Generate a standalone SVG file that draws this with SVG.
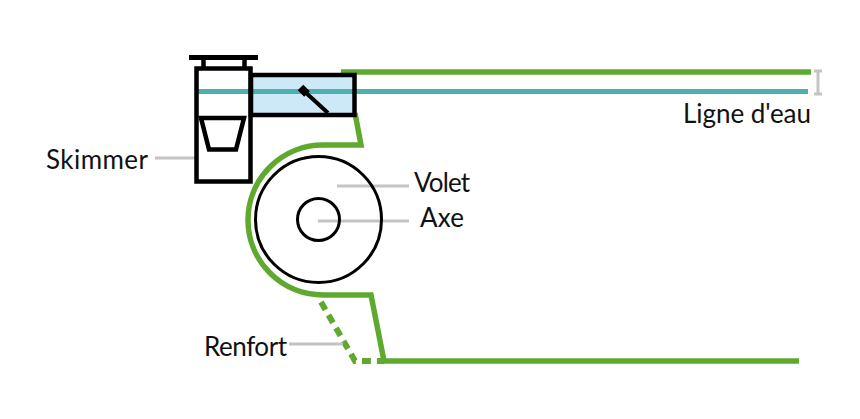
<svg xmlns="http://www.w3.org/2000/svg" width="860" height="419" viewBox="0 0 860 419">
<style>
.g{fill:none;stroke:#5fa92f;stroke-width:5.500}
.k{fill:none;stroke:#000;stroke-width:4.500}
.l{fill:none;stroke:#c4c4c4;stroke-width:3}
text{font-family:"Lato","Noto Sans",sans-serif;font-size:26px;fill:#111}
</style>
<rect width="860" height="419" fill="#fff"/>
<g id="connectors">
<path class="g" d="M341 72H811"/>
<path class="g" d="M355 113L361 145H323A75 75 0 0 0 323 295H371L384 361H799"/>
<path class="g" d="M321 302L355 361H384" stroke-dasharray="9 6" style="stroke-width:6"/>
<path class="l" d="M155 158H195"/>
<path class="l" d="M337 186H409"/>
<path class="l" d="M318 221H409"/>
<path class="l" d="M289 344H343"/>
<path class="l" d="M818 71V94M814 71H822M814 94H822"/>
</g>
<g id="bassin"><rect x="251" y="75" width="103.500" height="40" fill="#cde8f6"/></g>
<g id="ligne-eau"><path d="M198 91.500H808" fill="none" stroke="#4fb0b0" stroke-width="5"/></g>
<g id="skimmer">
<rect class="k" x="196.500" y="68.500" width="54" height="113"/>
<path d="M189 57.500H258" fill="none" stroke="#000" stroke-width="5"/>
<path d="M203.500 58V68M244.500 58V68" fill="none" stroke="#000" stroke-width="4.500"/>
<path class="k" d="M201 118H244L236 149.500H209Z"/>
</g>
<g id="volet-box">
<rect class="k" x="251" y="75" width="103.500" height="40"/>
<path d="M300.500 87.500L307 94" fill="none" stroke="#000" stroke-width="8"/>
<path d="M304 91L328 113" fill="none" stroke="#000" stroke-width="4"/>
</g>
<g id="volet"><circle class="k" cx="318.500" cy="219.500" r="63" style="stroke-width:3"/></g>
<g id="axe"><circle class="k" cx="318.500" cy="219.500" r="21" style="stroke-width:3"/></g>
<g id="labels">
<text x="46" y="169" textLength="102">Skimmer</text>
<text x="414" y="192" textLength="56">Volet</text>
<text x="420" y="227" textLength="44">Axe</text>
<text x="204" y="356" textLength="83">Renfort</text>
<text x="683" y="123" textLength="128">Ligne d'eau</text>
</g>
</svg>
